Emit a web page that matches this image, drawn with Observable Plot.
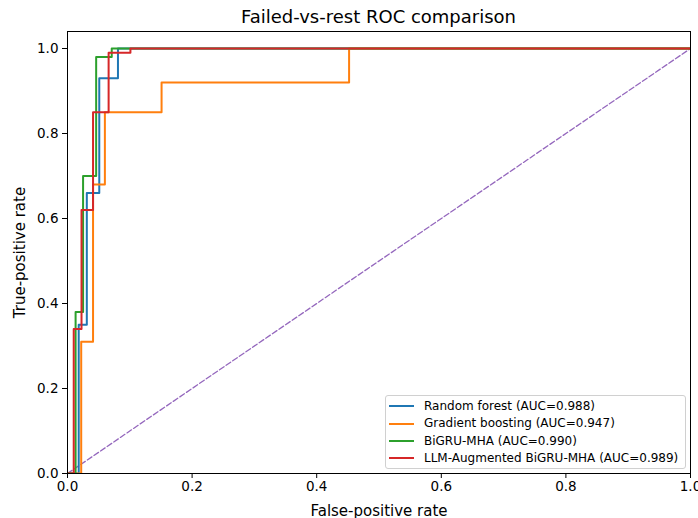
<!DOCTYPE html>
<html><head><meta charset="utf-8">
<script src="https://cdn.jsdelivr.net/npm/d3@7"></script>
<script src="https://cdn.jsdelivr.net/npm/@observablehq/plot@0.6"></script>
<style>
body{margin:0;background:#fff;font-family:"DejaVu Sans",sans-serif;}
#wrap{position:relative;width:698px;height:518px;overflow:hidden;background:#fff;}
#title{position:absolute;left:67px;width:623px;top:0;height:31px;line-height:33px;text-align:center;font-size:18px;color:#000;}
#chart{position:absolute;left:0;top:29px;}
#legend{position:absolute;left:385px;top:395px;width:299px;height:72px;border:1px solid #d0d0d0;border-radius:3px;background:rgba(255,255,255,0.8);}
.row{position:absolute;left:0;height:17px;font-size:12px;line-height:17px;white-space:nowrap;color:#000;}
.sw{position:absolute;left:3px;top:7.5px;width:25px;height:2px;}
.lb{position:absolute;left:38px;top:0;}
</style></head>
<body>
<div id="wrap">
  <div id="title"></div>
  <div id="chart"></div>
  <div id="legend"></div>
</div>
<script>
const titleText = "Failed-vs-rest ROC comparison";
const xLabel = "False-positive rate";
const yLabel = "True-positive rate";

const seriesNames = ["Random forest", "Gradient boosting", "BiGRU-MHA", "LLM-Augmented BiGRU-MHA"];
const aucValues = [0.988, 0.947, 0.990, 0.989];
const seriesColors = ["#1f77b4", "#ff7f0e", "#2ca02c", "#d62728"];

// ROC corner points (step-after: horizontal then vertical)
const rfFpr  = [0, 0.018, 0.031, 0.051, 0.081, 1];
const rfTpr  = [0, 0.35, 0.66, 0.93, 1.0, 1.0];
const gbFpr  = [0, 0.022, 0.041, 0.060, 0.151, 0.452, 1];
const gbTpr  = [0, 0.31, 0.68, 0.85, 0.92, 1.0, 1.0];
const bgFpr  = [0, 0.013, 0.025, 0.046, 0.071, 1];
const bgTpr  = [0, 0.38, 0.70, 0.98, 1.0, 1.0];
const llmFpr = [0, 0.010, 0.0225, 0.041, 0.066, 0.101, 1];
const llmTpr = [0, 0.34, 0.62, 0.85, 0.99, 1.0, 1.0];

const chanceFpr = [0, 1];
const chanceTpr = [0, 1];

const xTicks = [0, 0.2, 0.4, 0.6, 0.8, 1.0];
const yTicks = [0, 0.2, 0.4, 0.6, 0.8, 1.0];

const fprs = [rfFpr, gbFpr, bgFpr, llmFpr];
const tprs = [rfTpr, gbTpr, bgTpr, llmTpr];
const rocData = [];
seriesNames.forEach((name, i) => {
  fprs[i].forEach((f, j) => rocData.push({series: name, fpr: f, tpr: tprs[i][j]}));
});
const chanceData = chanceFpr.map((f, i) => ({fpr: f, tpr: chanceTpr[i]}));

document.getElementById("title").textContent = titleText;

const chart = Plot.plot({
  width: 698,
  height: 489,
  marginTop: 2,
  marginBottom: 45,
  marginLeft: 67,
  marginRight: 8,
  style: {fontFamily: "DejaVu Sans", fontSize: "13.5px", background: "transparent", overflow: "visible", color: "#000"},
  x: {domain: [0, 1]},
  y: {domain: [0, 1.04]},
  color: {domain: seriesNames, range: seriesColors},
  marks: [
    Plot.axisX({ticks: xTicks, tickFormat: d3.format(".1f"), tickSize: 5, tickPadding: 3, label: null, fontSize: 13.5}),
    Plot.axisX({ticks: [], tickSize: 0, label: xLabel, labelAnchor: "center", labelOffset: 42, labelArrow: "none", fontSize: 15}),
    Plot.axisY({ticks: yTicks, tickFormat: d3.format(".1f"), tickSize: 5, tickPadding: 4, label: null, fontSize: 13.5}),
    Plot.axisY({ticks: [], tickSize: 0, label: yLabel, labelAnchor: "center", labelOffset: 53, labelArrow: "none", fontSize: 15}),
    Plot.line(chanceData, {x: "fpr", y: "tpr", stroke: "#9467bd", strokeWidth: 1.3, strokeDasharray: "5.5,2.5", clip: true}),
    Plot.line(rocData, {x: "fpr", y: "tpr", z: "series", stroke: "series", strokeWidth: 2, curve: "step-after", clip: true}),
    Plot.frame({stroke: "#000", strokeWidth: 1})
  ]
});
document.getElementById("chart").appendChild(chart);

const legend = document.getElementById("legend");
const rowCenters = [10, 27.7, 45, 62.3];
seriesNames.forEach((name, i) => {
  const row = document.createElement("div");
  row.className = "row";
  row.style.top = (rowCenters[i] - 8.5) + "px";
  const sw = document.createElement("div");
  sw.className = "sw";
  sw.style.background = seriesColors[i];
  const lb = document.createElement("div");
  lb.className = "lb";
  lb.textContent = `${name} (AUC=${aucValues[i].toFixed(3)})`;
  row.appendChild(sw);
  row.appendChild(lb);
  legend.appendChild(row);
});
</script>
</body></html>
